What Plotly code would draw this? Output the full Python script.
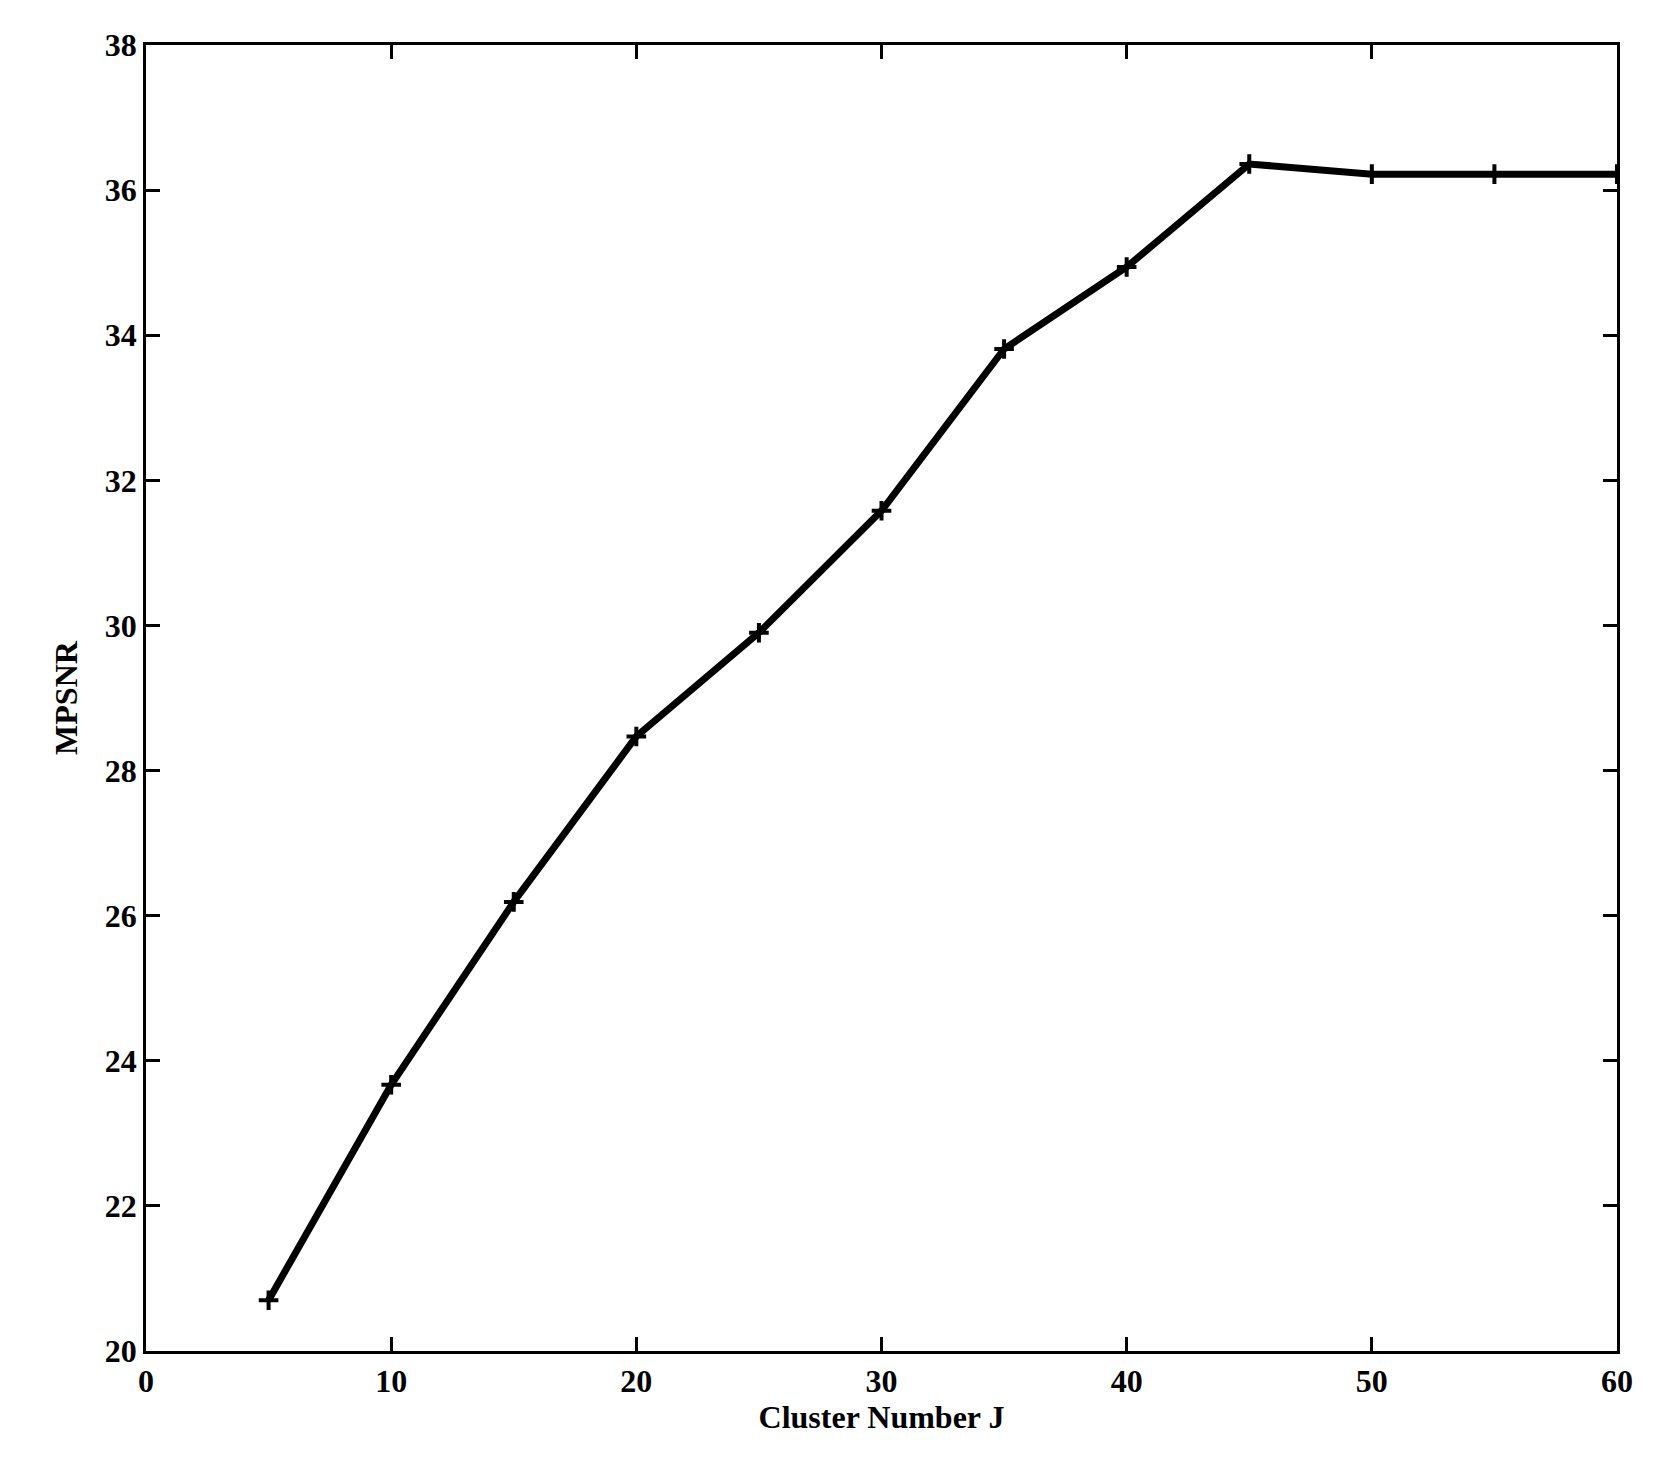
import plotly.graph_objects as go

cluster_number = [5, 10, 15, 20, 25, 30, 35, 40, 45, 50, 55, 60]
mpsnr = [20.70, 23.67, 26.19, 28.47, 29.90, 31.58, 33.81, 34.94, 36.36, 36.22, 36.22, 36.22]
x_ticks = [0, 10, 20, 30, 40, 50, 60]
y_ticks = [20, 22, 24, 26, 28, 30, 32, 34, 36, 38]

font = dict(family="Liberation Serif", size=32, color="black", weight="bold")

fig = go.Figure()
fig.add_trace(go.Scatter(x=cluster_number, y=mpsnr, mode="lines+markers",
                         line=dict(color="black", width=7),
                         marker=dict(symbol="cross-thin", size=14, color="black",
                                     line=dict(color="black", width=4))))

axis_common = dict(showgrid=False, zeroline=False, showline=True, linecolor="black", linewidth=2.5,
                   mirror="ticks", ticks="inside", ticklen=14, tickwidth=2.5, tickcolor="black",
                   tickfont=font)
fig.update_layout(width=1672, height=1475, plot_bgcolor="white", paper_bgcolor="white",
                  showlegend=False,
                  margin=dict(l=138, r=63, t=37, b=132),
                  xaxis=dict(range=[0, 60], tickvals=x_ticks,
                             title=dict(text="Cluster Number J", font=font, standoff=8),
                             **axis_common),
                  yaxis=dict(range=[20, 38], tickvals=y_ticks,
                             title=dict(text="MPSNR", font=font, standoff=18),
                             **axis_common))
fig.write_html("out.html")
